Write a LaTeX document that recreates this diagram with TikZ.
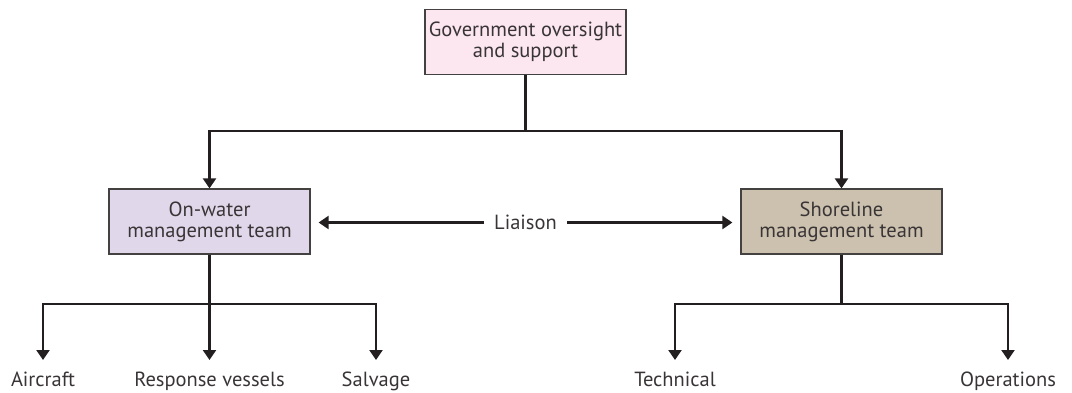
\documentclass[tikz,border=0pt]{standalone}
\usepackage{fontspec}
\setmainfont{PT Sans}
\usetikzlibrary{arrows.meta}
\definecolor{linec}{HTML}{231F20}
\definecolor{pinkf}{HTML}{FCE6F0}
\definecolor{lavf}{HTML}{E1D7EA}
\definecolor{tanf}{HTML}{CCC1AE}
\tikzset{
  txt/.style={font=\fontsize{20.5}{21}\selectfont, text=linec!90},
  box/.style={txt, draw=linec!85, line width=1.2pt, minimum width=201pt, minimum height=65pt, inner sep=0pt, align=center},
  conn/.style={draw=linec, line width=2.2pt},
  arr/.style={conn, -{Triangle[width=13pt,length=10pt]}},
  leaf/.style={txt, inner sep=0pt, text height=14pt, text depth=4pt, anchor=north},
}
\begin{document}
\begin{tikzpicture}[x=1pt,y=-1pt]
\useasboundingbox (0,0) rectangle (1072,392);
\node[box, fill=pinkf] (gov) at (525.5,42) {Government oversight\\and support};
\node[box, fill=lavf] (water) at (209.5,221.5) {On-water\\management team};
\node[box, fill=tanf] (shore) at (841.5,221.5) {Shoreline\\management team};
\node[txt, inner sep=0pt, minimum width=83pt, minimum height=10pt] (liaison) at (525.5,222.5) {Liaison};
\coordinate (bus1) at (525.5,131);
\coordinate (bus2) at (209.5,304);
\coordinate (bus3) at (841.5,304);
\node[leaf] (air) at (43,372) {Aircraft};
\node[leaf] (vessels) at (209.5,372) {Response vessels};
\node[leaf] (salvage) at (376,372) {Salvage};
\node[leaf] (tech) at (675,372) {Technical};
\node[leaf] (ops) at (1008,372) {Operations};
\draw[conn] (gov.south) -- (bus1);
\draw[arr] (bus1) -| (water.north);
\draw[arr] (bus1) -| (shore.north);
\draw[arr, shorten >=8pt] (liaison.west) -- (water.east |- liaison.west);
\draw[arr, shorten >=8pt] (liaison.east) -- (shore.west |- liaison.east);
\draw[conn] (water.south) -- (bus2);
\draw[conn] (shore.south) -- (bus3);
\draw[arr, shorten >=12pt] (bus2) -| (air.north);
\draw[arr, shorten >=12pt] (bus2) -| (salvage.north);
\draw[arr, shorten >=12pt] (bus2) -- (vessels.north);
\draw[arr, shorten >=12pt] (bus3) -| (tech.north);
\draw[arr, shorten >=12pt] (bus3) -| (ops.north);
\end{tikzpicture}
\end{document}
